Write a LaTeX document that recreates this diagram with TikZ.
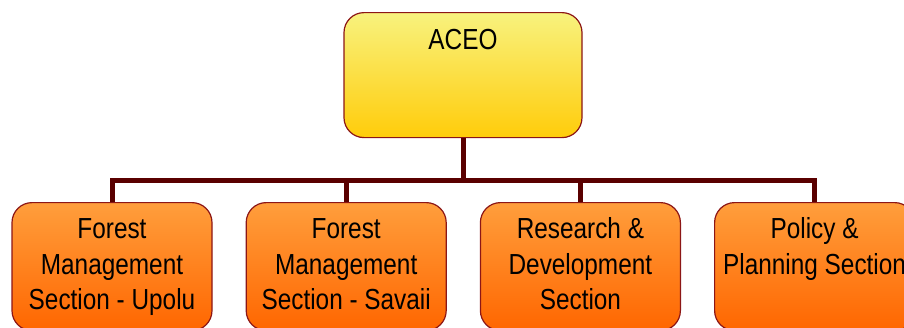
\documentclass[tikz,border=0pt]{standalone}
\usepackage{fontspec}
\setmainfont{Liberation Sans}[FakeStretch=0.84]
\usepackage{tikz}
\usetikzlibrary{positioning}

\definecolor{boxline}{RGB}{140,22,22}
\definecolor{trunk}{RGB}{90,0,0}
\definecolor{headtop}{RGB}{248,242,126}
\definecolor{headbot}{RGB}{255,204,10}
\definecolor{secttop}{RGB}{255,158,60}
\definecolor{sectbot}{RGB}{255,102,0}

\begin{document}
\begin{tikzpicture}[x=1pt,y=-1pt]
\tikzstyle{head}=[rectangle, rounded corners=20pt, draw=boxline, line width=1.2pt, top color=headtop, bottom color=headbot, minimum width=238pt, inner sep=0pt, text height=37pt, text depth=88pt, font=\fontsize{29}{35.5}\selectfont]
\tikzstyle{sect}=[head, minimum width=200pt, top color=secttop, bottom color=sectbot, text height=36pt, text depth=92pt, node distance=33pt]
\tikzstyle{connect}=[line width=5pt, draw=trunk]
  \clip (0,0) rectangle (904,327);

  \node[head, anchor=north] (aceo) at (463,12) {ACEO};

  \node[sect, anchor=north] (fmu) at (112,202) {\parbox[t]{200pt}{\centering Forest\\Management\\Section - Upolu}};
  \node[sect] (fms) [right=of fmu] {\parbox[t]{200pt}{\centering Forest\\Management\\Section - Savaii}};
  \node[sect] (rnd) [right=of fms] {\parbox[t]{200pt}{\centering Research \&\\Development\\Section}};
  \node[sect] (pps) [right=of rnd] {\parbox[t]{200pt}{\centering Policy \&\\Planning Section}};

  \coordinate (hub) at (463,180);
  \draw[connect] (aceo.south) -- (hub);
  \draw[connect] (hub) -| (fmu.north);
  \draw[connect] (hub) -| (fms.north);
  \draw[connect] (hub) -| (rnd.north);
  \draw[connect] (hub) -| (pps.north);
\end{tikzpicture}
\end{document}
